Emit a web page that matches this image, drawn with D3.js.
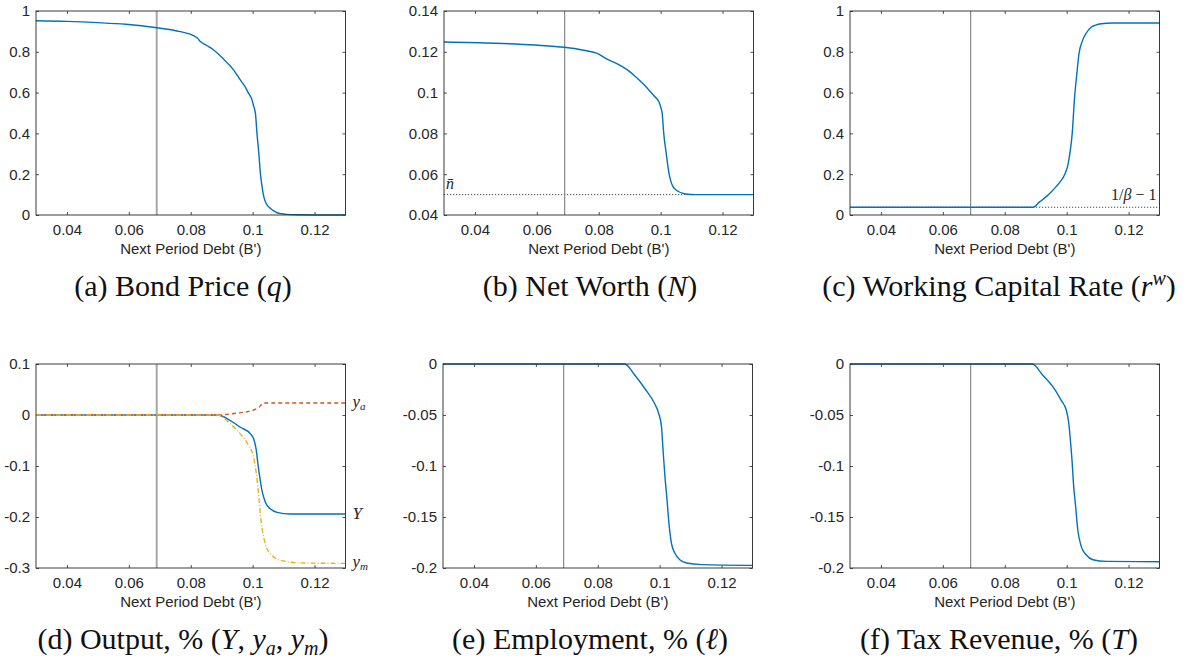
<!DOCTYPE html>
<html>
<head>
<meta charset="utf-8">
<script src="https://cdn.jsdelivr.net/npm/d3@7"></script>
<style>
  body { margin: 0; background: #fff; }
</style>
</head>
<body>
<div id="chart"></div>
<script>
// ---------------- data ----------------
const debtDomain = [0.03, 0.13];
const debtTicks = [0.04, 0.06, 0.08, 0.1, 0.12];
const currentDebt = 0.069;   // vertical marker
const nBar = 0.05;           // net worth floor
const rFloor = 0.038;        // 1/beta - 1

// (a) bond price q
const qDebt = [0.03, 0.04, 0.05, 0.059, 0.069, 0.0766, 0.0809, 0.0822, 0.0831, 0.085, 0.0874, 0.0895, 0.0917, 0.094, 0.096, 0.0975, 0.0987, 0.0998, 0.1003, 0.1009, 0.1014, 0.102, 0.1025, 0.1029, 0.1032, 0.1036, 0.1041, 0.1048, 0.1057, 0.1068, 0.1079, 0.1095, 0.1111, 0.115, 0.12, 0.13];
const qVals = [0.952, 0.949, 0.943, 0.935, 0.918, 0.899, 0.879, 0.866, 0.85, 0.832, 0.809, 0.781, 0.747, 0.708, 0.662, 0.63, 0.596, 0.564, 0.535, 0.498, 0.4, 0.302, 0.204, 0.155, 0.123, 0.09, 0.065, 0.046, 0.033, 0.02, 0.011, 0.006, 0.003, 0.001, 0.0002, 0];

// (b) net worth N
const nDebt = [0.03, 0.0465, 0.0595, 0.069, 0.0746, 0.08, 0.0815, 0.0832, 0.0855, 0.0876, 0.0898, 0.0919, 0.094, 0.0962, 0.098, 0.0994, 0.1, 0.1005, 0.101, 0.1018, 0.1027, 0.1033, 0.104, 0.1049, 0.1059, 0.107, 0.1081, 0.1113, 0.12, 0.13];
const nVals = [0.1248, 0.1242, 0.1233, 0.1222, 0.1209, 0.1189, 0.1175, 0.116, 0.1145, 0.1127, 0.1105, 0.1078, 0.1048, 0.1013, 0.0982, 0.0956, 0.093, 0.0898, 0.08, 0.0702, 0.0604, 0.0565, 0.0539, 0.0524, 0.0514, 0.0507, 0.0503, 0.05, 0.05, 0.05];

// (c) working capital rate r^w
const rDebt = [0.03, 0.0891, 0.0912, 0.0934, 0.095, 0.0966, 0.098, 0.0993, 0.1004, 0.1012, 0.1018, 0.1025, 0.1033, 0.104, 0.105, 0.1063, 0.1079, 0.1092, 0.1106, 0.1149, 0.13];
const rVals = [0.038, 0.038, 0.063, 0.09, 0.113, 0.139, 0.165, 0.196, 0.245, 0.319, 0.4, 0.564, 0.694, 0.792, 0.85, 0.891, 0.92, 0.93, 0.936, 0.941, 0.941];

// (d) output Y, y_a, y_m
const yDebt = [0.03, 0.0887, 0.0928, 0.096, 0.0993, 0.1005, 0.1012, 0.1017, 0.1023, 0.103, 0.1041, 0.1057, 0.1079, 0.1122, 0.13];
const yVals = [0, 0, -0.011, -0.024, -0.037, -0.05, -0.07, -0.096, -0.122, -0.148, -0.171, -0.184, -0.191, -0.194, -0.194];
const yaDebt = [0.03, 0.0887, 0.0939, 0.1003, 0.102, 0.1036, 0.13];
const yaVals = [0, 0, 0.003, 0.0098, 0.015, 0.0235, 0.0235];
const ymDebt = [0.03, 0.0887, 0.0928, 0.096, 0.0987, 0.1003, 0.1012, 0.102, 0.1027, 0.1038, 0.1057, 0.109, 0.1154, 0.13];
const ymVals = [0, 0, -0.0176, -0.037, -0.06, -0.083, -0.115, -0.161, -0.207, -0.246, -0.272, -0.285, -0.29, -0.291];

// (e) employment
const lDebt = [0.03, 0.0887, 0.092, 0.0952, 0.0984, 0.0997, 0.1006, 0.1011, 0.1017, 0.1023, 0.103, 0.1038, 0.1049, 0.1065, 0.1087, 0.1135, 0.13];
const lVals = [0, 0, -0.011, -0.024, -0.039, -0.0485, -0.0616, -0.0844, -0.11, -0.13, -0.156, -0.1756, -0.1853, -0.192, -0.1951, -0.1967, -0.1974];

// (f) tax revenue
const tDebt = [0.03, 0.0889, 0.0923, 0.0956, 0.0982, 0.0999, 0.1007, 0.1013, 0.1018, 0.1022, 0.1029, 0.1036, 0.1047, 0.1063, 0.1085, 0.1128, 0.13];
const tVals = [0, 0, -0.011, -0.0225, -0.0355, -0.0453, -0.0583, -0.0779, -0.0974, -0.117, -0.1397, -0.1625, -0.1788, -0.187, -0.1919, -0.1935, -0.1938];

const ticks01 = [0, 0.2, 0.4, 0.6, 0.8, 1];
const ticksN = [0.04, 0.06, 0.08, 0.1, 0.12, 0.14];
const ticksOut = [-0.3, -0.2, -0.1, 0, 0.1];
const ticksPct = [-0.2, -0.15, -0.1, -0.05, 0];

// ---------------- layout ----------------
const W = 1191, H = 666;
const blue = '#0072BD', red = '#D95319', yellow = '#EDB120', ink = '#262626';
const tickFont = '"Liberation Sans", Arial, Helvetica, sans-serif';
const serif = '"Liberation Serif", "Times New Roman", serif';

const zip = (xs, ys) => xs.map((x, i) => [x, ys[i]]);

const panels = [
  { id: 'a', left: 36, top: 11, yDomain: [0, 1], yTicks: ticks01, markStyle: 'light',
    series: [{ pts: zip(qDebt, qVals), color: blue }] },
  { id: 'b', left: 444, top: 11, yDomain: [0.04, 0.14], yTicks: ticksN, markStyle: 'dark',
    series: [{ pts: zip(nDebt, nVals), color: blue }], floor: nBar },
  { id: 'c', left: 850, top: 11, yDomain: [0, 1], yTicks: ticks01, markStyle: 'dark',
    series: [{ pts: zip(rDebt, rVals), color: blue }], floor: rFloor },
  { id: 'd', left: 36, top: 364, yDomain: [-0.3, 0.1], yTicks: ticksOut, markStyle: 'light',
    series: [
      { pts: zip(yDebt, yVals), color: blue, name: 'Y' },
      { pts: zip(yaDebt, yaVals), color: red, dash: '4,3', name: 'ya' },
      { pts: zip(ymDebt, ymVals), color: yellow, dash: '5,2,1,2', name: 'ym' }
    ] },
  { id: 'e', left: 443, top: 364, yDomain: [-0.2, 0], yTicks: ticksPct, markStyle: 'dark',
    series: [{ pts: zip(lDebt, lVals), color: blue }] },
  { id: 'f', left: 850, top: 364, yDomain: [-0.2, 0], yTicks: ticksPct, markStyle: 'dark',
    series: [{ pts: zip(tDebt, tVals), color: blue }] }
];
const pw = 309.5, ph = 204;

const svg = d3.select('#chart').append('svg')
  .attr('width', W).attr('height', H)
  .style('font-family', tickFont);

const fmt = d => String(+(+d).toFixed(4));

panels.forEach(p => {
  const g = svg.append('g').attr('transform', `translate(${p.left},${p.top})`);
  const x = d3.scaleLinear().domain(debtDomain).range([0, pw]);
  const y = d3.scaleLinear().domain(p.yDomain).range([ph, 0]);
  p.x = x; p.y = y; p.g = g;

  // axes, MATLAB style: inward ticks, mirrored
  const styleAxis = sel => {
    sel.select('.domain').remove();
    sel.selectAll('line').attr('stroke', ink).attr('stroke-width', 0.8);
    sel.selectAll('text').attr('fill', ink).style('font-size', '15px').style('font-family', tickFont);
  };
  g.append('g').attr('transform', `translate(0,${ph})`)
    .call(d3.axisBottom(x).tickValues(debtTicks).tickSize(-3).tickPadding(9).tickFormat(fmt))
    .call(styleAxis);
  g.append('g')
    .call(d3.axisTop(x).tickValues(debtTicks).tickSize(-3).tickFormat(''))
    .call(styleAxis);
  g.append('g')
    .call(d3.axisLeft(y).tickValues(p.yTicks).tickSize(-3).tickPadding(6).tickFormat(fmt))
    .call(styleAxis);
  g.append('g').attr('transform', `translate(${pw},0)`)
    .call(d3.axisRight(y).tickValues(p.yTicks).tickSize(-3).tickFormat(''))
    .call(styleAxis);

  // reference lines
  if (p.floor !== undefined) {
    g.append('line')
      .attr('x1', 0).attr('x2', pw)
      .attr('y1', y(p.floor)).attr('y2', y(p.floor))
      .attr('stroke', '#444').attr('stroke-width', 1)
      .attr('stroke-dasharray', '1.2,1.8');
  }
  g.append('line')
    .attr('x1', x(currentDebt)).attr('x2', x(currentDebt))
    .attr('y1', 0).attr('y2', ph)
    .attr('stroke', p.markStyle === 'light' ? '#a8a8a8' : '#707070')
    .attr('stroke-width', p.markStyle === 'light' ? 2 : 1);

  // series
  const line = d3.line().x(d => x(d[0])).y(d => y(d[1])).curve(d3.curveMonotoneX);
  p.series.forEach(s => {
    g.append('path')
      .datum(s.pts)
      .attr('d', line)
      .attr('fill', 'none')
      .attr('stroke', s.color)
      .attr('stroke-width', 1.4)
      .attr('stroke-dasharray', s.dash || null);
  });

  // frame
  g.append('rect')
    .attr('x', 0).attr('y', 0).attr('width', pw).attr('height', ph)
    .attr('fill', 'none').attr('stroke', ink).attr('stroke-width', 0.9);

  // x label
  g.append('text')
    .attr('x', pw / 2).attr('y', ph + 39)
    .attr('text-anchor', 'middle')
    .attr('fill', ink).style('font-size', '15px')
    .text("Next Period Debt (B')");
});

// ---------------- annotations ----------------
const pb = panels[1];
pb.g.append('text')
  .attr('x', 2).attr('y', pb.y(nBar) - 6)
  .style('font-family', serif).style('font-size', '16px').style('font-style', 'italic')
  .attr('fill', ink)
  .text('n\u0304');

const pc = panels[2];
const beta = pc.g.append('text')
  .attr('x', pw - 3).attr('y', pc.y(rFloor) - 7)
  .attr('text-anchor', 'end')
  .style('font-family', serif).style('font-size', '16px')
  .attr('fill', ink);
beta.append('tspan').text('1/');
beta.append('tspan').style('font-style', 'italic').text('β');
beta.append('tspan').text(' \u2212 1');

const pd = panels[3];
const endVal = s => s.pts[s.pts.length - 1][1];
pd.series.forEach(s => {
  const t = pd.g.append('text')
    .attr('x', pw + 7)
    .attr('y', pd.y(endVal(s)) + (s.name === 'Y' ? 5 : 4))
    .style('font-family', serif).style('font-size', '17px').style('font-style', 'italic')
    .attr('fill', ink);
  if (s.name === 'Y') {
    t.text('Y');
  } else {
    t.append('tspan').text('y');
    t.append('tspan').attr('dy', 3).style('font-size', '11px').text(s.name.slice(1));
  }
});

// ---------------- captions ----------------
const captions = [
  { cx: 183, y: 296, parts: [['(a) Bond Price ('], ['q', 'i'], [')']] },
  { cx: 590, y: 296, parts: [['(b) Net Worth ('], ['N', 'i'], [')']] },
  { cx: 999, y: 296, parts: [['(c) Working Capital Rate ('], ['r', 'i'], ['w', 'sup'], [')']] },
  { cx: 183, y: 649, parts: [['(d) Output, % ('], ['Y', 'i'], [', '], ['y', 'i'], ['a', 'sub'], [', '], ['y', 'i'], ['m', 'sub'], [')']] },
  { cx: 590, y: 649, parts: [['(e) Employment, % ('], ['\u2113', 'i'], [')']] },
  { cx: 999, y: 649, parts: [['(f) Tax Revenue, % ('], ['T', 'i'], [')']] }
];

captions.forEach(c => {
  const t = svg.append('text')
    .attr('x', c.cx).attr('y', c.y)
    .attr('text-anchor', 'middle')
    .style('font-family', serif).style('font-size', '30px')
    .attr('fill', '#111');
  let shift = 0;
  c.parts.forEach(([str, kind]) => {
    const ts = t.append('tspan').text(str);
    let target = 0;
    if (kind === 'sup') { target = -11; ts.style('font-size', '20px').style('font-style', 'italic'); }
    else if (kind === 'sub') { target = 6; ts.style('font-size', '20px').style('font-style', 'italic'); }
    else if (kind === 'i') { ts.style('font-style', 'italic'); }
    if (target !== shift) { ts.attr('dy', target - shift); shift = target; }
  });
});
</script>
</body>
</html>
